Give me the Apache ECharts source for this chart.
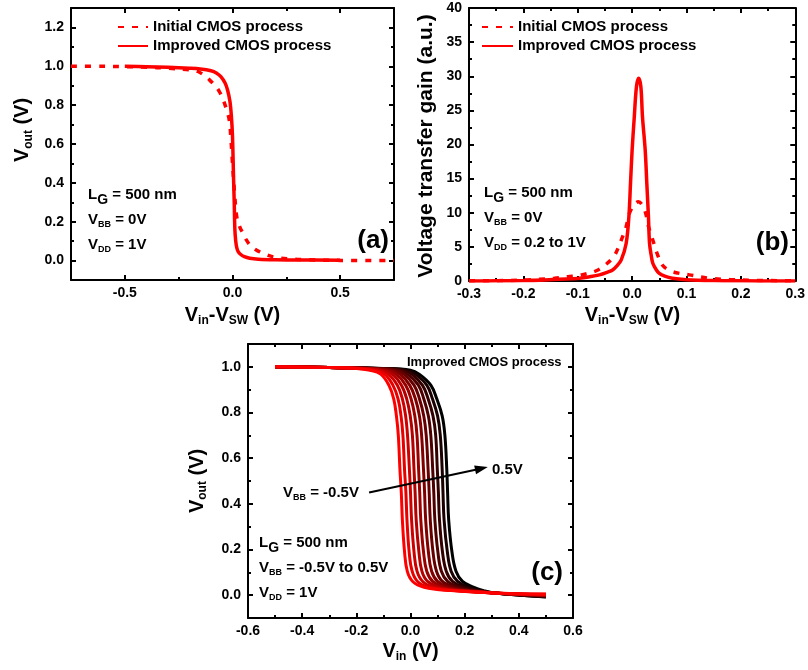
<!DOCTYPE html>
<html><head><meta charset="utf-8">
<script src="https://cdn.jsdelivr.net/npm/echarts@6.0.0/dist/echarts.min.js"></script>
<style>html,body{margin:0;padding:0;background:#fff}#chart{width:808px;height:670px}</style>
</head><body><div id="chart"></div>
<script>
// ---------------- Panel (a): Vout vs Vin-Vsw ----------------
const aInitialX  = [-0.75,-0.6,-0.5,-0.4,-0.3,-0.2,-0.16,-0.107,-0.061,-0.031,-0.015,-0.008,0.0,0.011,0.02,0.035,0.046,0.065,0.084,0.11,0.145,0.19,0.26,0.35,0.5,0.75];
const aInitialY  = [1.0,1.0,0.998,0.995,0.99,0.982,0.973,0.93,0.87,0.79,0.723,0.637,0.5,0.327,0.224,0.17,0.146,0.105,0.077,0.055,0.036,0.019,0.009,0.004,0.001,0.0];
const aImprovedX = [-0.5,-0.4,-0.3,-0.2,-0.15,-0.1,-0.075,-0.054,-0.035,-0.023,-0.012,-0.005,0.0,0.005,0.008,0.011,0.015,0.02,0.027,0.04,0.055,0.08,0.12,0.2,0.3,0.5];
const aImprovedY = [1.0,0.998,0.995,0.99,0.986,0.977,0.966,0.947,0.915,0.878,0.82,0.74,0.64,0.42,0.3,0.16,0.1,0.065,0.045,0.03,0.02,0.012,0.007,0.004,0.003,0.002];

// ---------------- Panel (b): voltage transfer gain ----------------
const bInitialX  = [-0.3,-0.25,-0.2,-0.17,-0.143,-0.118,-0.094,-0.066,-0.048,-0.033,-0.02,-0.011,-0.005,0.004,0.0114,0.018,0.025,0.03,0.038,0.046,0.056,0.07,0.085,0.105,0.142,0.18,0.22,0.3];
const bInitialY  = [0.02,0.05,0.12,0.25,0.39,0.63,0.88,1.5,2.44,3.66,6.0,8.0,9.9,11.2,11.6,11.2,9.9,8.0,6.0,4.0,2.3,1.5,1.15,0.9,0.4,0.2,0.1,0.02];
const bImprovedX = [-0.3,-0.25,-0.2,-0.16,-0.134,-0.11,-0.097,-0.08,-0.06,-0.045,-0.036,-0.028,-0.02,-0.011,-0.006,-0.003,0.0,0.004,0.008,0.012,0.016,0.019,0.024,0.027,0.03,0.032,0.035,0.038,0.044,0.05,0.06,0.074,0.1,0.15,0.2,0.3];
const bImprovedY = [0.0,0.02,0.06,0.15,0.25,0.33,0.4,0.6,0.9,1.3,1.6,2.2,3.1,5.5,9.4,14.3,19.2,24.1,28.5,29.7,28.5,24.1,19.2,14.3,9.4,5.5,3.8,2.6,1.7,1.1,0.7,0.4,0.2,0.07,0.03,0.0];

// ---------------- Panel (c): Vout vs Vin for VBB = -0.5 ... 0.5 V ----------------
const cVbb = [-0.5,-0.4,-0.3,-0.2,-0.1,0.0,0.1,0.2,0.3,0.4,0.5];
const cStartX = [-0.5,-0.3];
const cStartY = [1.0,0.997];
const cLevelsY = [0.993,0.985,0.968,0.92,0.86,0.785,0.70,0.55,0.45,0.33,0.19,0.105,0.06,0.035,0.02,0.01];
const cCurveX = [
  [-0.200,-0.150,-0.110,-0.080,-0.062,-0.052,-0.045,-0.039,-0.034,-0.030,-0.022,-0.012,0.008,0.050,0.150,0.300],
  [-0.190,-0.135,-0.096,-0.065,-0.046,-0.035,-0.028,-0.022,-0.017,-0.013,-0.005,0.006,0.026,0.068,0.162,0.301],
  [-0.180,-0.120,-0.082,-0.049,-0.030,-0.018,-0.011,-0.004,0.000,0.004,0.013,0.024,0.045,0.086,0.174,0.302],
  [-0.170,-0.105,-0.067,-0.034,-0.014,-0.001,0.007,0.013,0.017,0.021,0.031,0.042,0.063,0.105,0.186,0.303],
  [-0.160,-0.090,-0.053,-0.018,0.002,0.016,0.024,0.030,0.034,0.038,0.048,0.060,0.082,0.123,0.198,0.304],
  [-0.150,-0.075,-0.039,-0.003,0.018,0.033,0.041,0.048,0.052,0.056,0.066,0.078,0.100,0.141,0.210,0.305],
  [-0.140,-0.060,-0.025,0.013,0.033,0.049,0.058,0.065,0.069,0.073,0.083,0.096,0.118,0.159,0.222,0.306],
  [-0.130,-0.045,-0.011,0.029,0.049,0.066,0.075,0.082,0.086,0.090,0.101,0.114,0.137,0.177,0.234,0.307],
  [-0.120,-0.030,0.004,0.044,0.065,0.083,0.093,0.099,0.103,0.107,0.118,0.132,0.155,0.196,0.246,0.308],
  [-0.110,-0.015,0.018,0.060,0.081,0.100,0.110,0.117,0.120,0.124,0.136,0.150,0.174,0.214,0.258,0.309],
  [-0.100,0.000,0.032,0.075,0.097,0.117,0.127,0.134,0.137,0.141,0.153,0.168,0.192,0.232,0.270,0.310]
];
const cEndX = 0.5;
const cEndY = [0.005,0.004,0.002,0.001,0.000,-0.002,-0.003,-0.004,-0.005,-0.007,-0.008];
const cColors = ['#ff0000','#e60000','#cc0000','#b30000','#990000','#800000','#660000','#4d0000','#330000','#1a0000','#000000'];
const cArrowFrom = [-0.153, 0.45];
const cArrowTo = [0.262, 0.555];

// ---------------- Tick values ----------------
const aXRange = [-0.75, 0.75], aYRange = [-0.1, 1.3];
const aXMajor = [-0.5, 0.0, 0.5], aXMinor = [-0.25, 0.25];
const aYMajor = [0.0,0.2,0.4,0.6,0.8,1.0,1.2], aYMinor = [0.1,0.3,0.5,0.7,0.9,1.1];
const bXRange = [-0.3, 0.3], bYRange = [0, 40];
const bXMajor = [-0.3,-0.2,-0.1,0.0,0.1,0.2,0.3], bXMinor = [-0.25,-0.15,-0.05,0.05,0.15,0.25];
const bYMajor = [0,5,10,15,20,25,30,35,40], bYMinor = [2.5,7.5,12.5,17.5,22.5,27.5,32.5,37.5];
const cXRange = [-0.6, 0.6], cYRange = [-0.1, 1.1];
const cXMajor = [-0.6,-0.4,-0.2,0.0,0.2,0.4,0.6], cXMinor = [-0.5,-0.3,-0.1,0.1,0.3,0.5];
const cYMajor = [0.0,0.2,0.4,0.6,0.8,1.0], cYMinor = [0.1,0.3,0.5,0.7,0.9];

const legendNames = ['Initial CMOS process','Improved CMOS process'];

// ---------------- Build ----------------
const FF = '"Liberation Sans", Arial, Helvetica, sans-serif';
const RED = '#ff0000';
const zip = (xs, ys) => xs.map((x, i) => [x, ys[i]]);
const fmt1 = v => Number(v).toFixed(1);
const fmt0 = v => String(Math.round(v));
const labelFont = {fontFamily: FF, fontWeight: 'bold', fontSize: 14, color: '#000'};

function axes(dim, gi, range, major, minor, fmt) {
  const pA = dim === 'x' ? 'bottom' : 'left';
  const pB = dim === 'x' ? 'top' : 'right';
  const base = {type: 'value', gridIndex: gi, min: range[0], max: range[1], splitLine: {show: false}};
  const line = {show: true, onZero: false, lineStyle: {color: '#000', width: 2}};
  const noLine = {show: false, onZero: false};
  const tk = (vals, len) => ({show: true, inside: true, length: len, customValues: vals, lineStyle: {color: '#000', width: 2}});
  return [
    Object.assign({}, base, {position: pA, axisLine: line, axisTick: tk(major, 5),
      axisLabel: Object.assign({show: true, customValues: major, formatter: fmt, margin: dim === 'x' ? 6 : 7}, labelFont)}),
    Object.assign({}, base, {position: pA, axisLine: noLine, axisTick: tk(minor, 3), axisLabel: {show: false}}),
    Object.assign({}, base, {position: pB, axisLine: line, axisTick: tk(major, 5), axisLabel: {show: false}}),
    Object.assign({}, base, {position: pB, axisLine: noLine, axisTick: tk(minor, 3), axisLabel: {show: false}})
  ];
}

const meas = document.createElement('canvas').getContext('2d');
function tw(t, size) { meas.font = 'bold ' + size + 'px ' + FF; return meas.measureText(t).width; }
function subText(segs, x, y, align, rotation) {
  let cur = 0; const kids = [];
  segs.forEach(s => {
    kids.push({type: 'text', x: cur, y: s[2], style: {text: s[0], font: 'bold ' + s[1] + 'px ' + FF, fill: '#000',
      textAlign: 'left', textVerticalAlign: 'middle', align: 'left', verticalAlign: 'middle'}});
    cur += tw(s[0], s[1]);
  });
  const shift = align === 'center' ? -cur / 2 : (align === 'right' ? -cur : 0);
  kids.forEach(k => { k.x += shift; });
  return {type: 'group', x: x, y: y, rotation: rotation || 0, children: kids, z: 100};
}
const VERT = Math.PI / 2;

const xAxis = [].concat(axes('x', 0, aXRange, aXMajor, aXMinor, fmt1), axes('x', 1, bXRange, bXMajor, bXMinor, fmt1), axes('x', 2, cXRange, cXMajor, cXMinor, fmt1));
const yAxis = [].concat(axes('y', 0, aYRange, aYMajor, aYMinor, fmt1), axes('y', 1, bYRange, bYMajor, bYMinor, fmt0), axes('y', 2, cYRange, cYMajor, cYMinor, fmt1));

const dashed = [6, 8];
const SM = 0.35;
const series = [
  {name: legendNames[0], type: 'line', xAxisIndex: 0, yAxisIndex: 0, data: zip(aInitialX, aInitialY), symbol: 'none', smooth: SM,
   lineStyle: {color: RED, width: 3.5, type: dashed}, itemStyle: {color: RED}},
  {name: legendNames[1], type: 'line', xAxisIndex: 0, yAxisIndex: 0, data: zip(aImprovedX, aImprovedY), symbol: 'none', smooth: SM,
   lineStyle: {color: RED, width: 3.5, type: 'solid'}, itemStyle: {color: RED}},
  {name: legendNames[0], type: 'line', xAxisIndex: 4, yAxisIndex: 4, data: zip(bInitialX, bInitialY), symbol: 'none', smooth: SM,
   lineStyle: {color: RED, width: 3.5, type: dashed}, itemStyle: {color: RED}},
  {name: legendNames[1], type: 'line', xAxisIndex: 4, yAxisIndex: 4, data: zip(bImprovedX, bImprovedY), symbol: 'none', smooth: SM,
   lineStyle: {color: RED, width: 3.5, type: 'solid'}, itemStyle: {color: RED}}
];
for (let i = cVbb.length - 1; i >= 0; i--) {
  const pts = zip(cStartX, cStartY).concat(zip(cCurveX[i], cLevelsY)).concat([[cEndX, cEndY[i]]]);
  const s = {name: 'VBB = ' + cVbb[i] + ' V', type: 'line', xAxisIndex: 8, yAxisIndex: 8, data: pts, symbol: 'none', smooth: 0.4,
    lineStyle: {color: cColors[i], width: 3}, itemStyle: {color: cColors[i]}, z: 2};
  if (i === 0) {
    s.markLine = {silent: true, symbol: ['none', 'triangle'], symbolSize: [9, 13], label: {show: false},
      lineStyle: {color: '#000', width: 2, type: 'solid'}, emphasis: {disabled: true},
      data: [[{coord: cArrowFrom}, {coord: cArrowTo}]]};
  }
  series.push(s);
}

const legendText = {fontFamily: FF, fontWeight: 'bold', fontSize: 15, color: '#000', lineHeight: 18};
const hiddenSymbol = {color: 'rgba(0,0,0,0)', borderColor: 'rgba(0,0,0,0)', borderWidth: 0, opacity: 0};
const legend = [
  {data: legendNames, left: 117, top: 18, padding: 0, orient: 'vertical', itemWidth: 30, itemHeight: 14, itemGap: 1, selectedMode: false,
   textStyle: legendText, itemStyle: hiddenSymbol},
  {data: legendNames, left: 481, top: 18, padding: 0, orient: 'vertical', itemWidth: 31, itemHeight: 14, itemGap: 1, selectedMode: false,
   textStyle: legendText, itemStyle: hiddenSymbol}
];

const graphic = [
  // axis titles
  subText([['V',20,0],['out',12,6],[' (V)',20,0]], 22.5, 130, 'center', VERT),
  subText([['V',20,0],['in',12,6],['-V',20,0],['SW',12,6],[' (V)',20,0]], 232.5, 315, 'center'),
  subText([['Voltage transfer gain (a.u.)',21,0]], 426, 146, 'center', VERT),
  subText([['V',20,0],['in',12,6],['-V',20,0],['SW',12,6],[' (V)',20,0]], 632.5, 315, 'center'),
  subText([['V',20,0],['out',12,6],[' (V)',20,0]], 197, 481, 'center', VERT),
  subText([['V',20,0],['in',12,6],[' (V)',20,0]], 410.5, 651, 'center'),
  // panel (a) notes
  subText([['L',15,0],['G',14,5],[' = 500 nm',15,0]], 88, 195, 'left'),
  subText([['V',15,0],['BB',9,5],[' = 0V',15,0]], 88, 220, 'left'),
  subText([['V',15,0],['DD',9,5],[' = 1V',15,0]], 88, 245, 'left'),
  subText([['(a)',26,0]], 389, 241, 'right'),
  // panel (b) notes
  subText([['L',15,0],['G',14,5],[' = 500 nm',15,0]], 484, 193, 'left'),
  subText([['V',15,0],['BB',9,5],[' = 0V',15,0]], 484, 218, 'left'),
  subText([['V',15,0],['DD',9,5],[' = 0.2 to 1V',15,0]], 484, 243, 'left'),
  subText([['(b)',26,0]], 789, 243, 'right'),
  // panel (c) notes
  subText([['Improved CMOS process',13,0]], 407, 362, 'left'),
  subText([['V',15,0],['BB',9,5],[' = -0.5V',15,0]], 283, 493, 'left'),
  subText([['0.5V',15,0]], 492, 470, 'left'),
  subText([['L',15,0],['G',14,5],[' = 500 nm',15,0]], 259, 543, 'left'),
  subText([['V',15,0],['BB',9,5],[' = -0.5V to 0.5V',15,0]], 259, 568, 'left'),
  subText([['V',15,0],['DD',9,5],[' = 1V',15,0]], 259, 593, 'left'),
  subText([['(c)',26,0]], 563, 573, 'right')
];

const chart = echarts.init(document.getElementById('chart'), null, {renderer: 'canvas'});
chart.setOption({
  animation: false,
  backgroundColor: '#fff',
  grid: [
    {left: 71, top: 8, width: 323, height: 272, containLabel: false},
    {left: 469, top: 8, width: 327, height: 273, containLabel: false},
    {left: 248, top: 344, width: 325, height: 274, containLabel: false}
  ],
  xAxis: xAxis,
  yAxis: yAxis,
  legend: legend,
  series: series,
  graphic: graphic
});
</script></body></html>
